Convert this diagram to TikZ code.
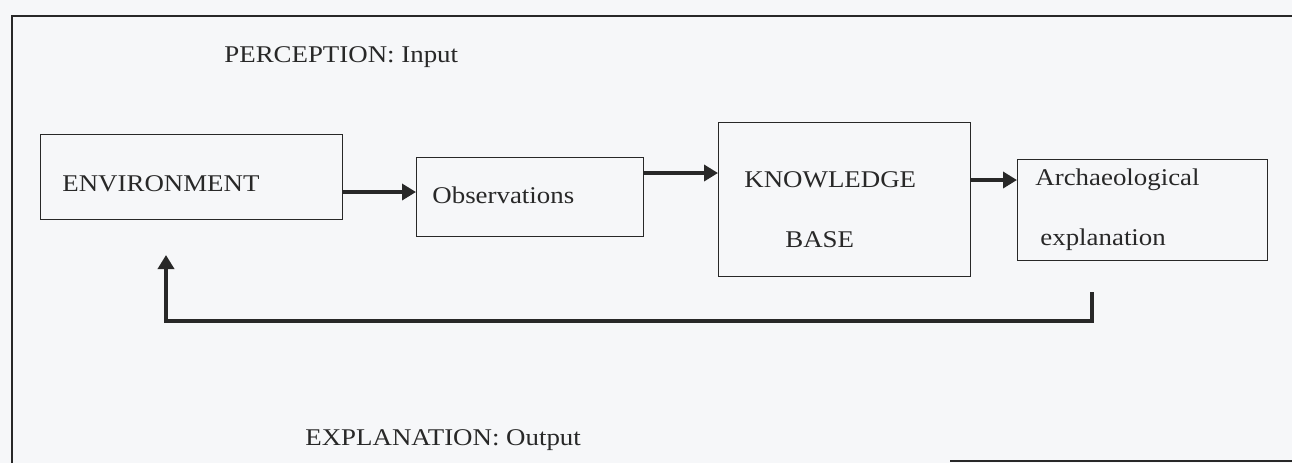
\documentclass[tikz,border=0pt]{standalone}
\usepackage{fontspec}
\setmainfont{Liberation Serif}[FakeStretch=1.12]
\usetikzlibrary{arrows.meta}
\definecolor{bgc}{RGB}{246,247,249}
\definecolor{ink}{RGB}{40,40,40}
\tikzset{
  boxshape/.style={draw=ink, line width=0.6pt, fill=none, rectangle, inner sep=0pt},
  txt/.style={anchor=west, inner sep=0pt, text=ink, font=\fontsize{12}{14}\selectfont},
  arr/.style={draw=ink, line width=2pt, -{Triangle[length=7pt,width=8pt]}},
  frameline/.style={draw=ink, line width=0.8pt}
}
\begin{document}
\begin{tikzpicture}[x=0.5pt,y=-0.5pt]
\useasboundingbox (0,0) rectangle (1292,463);
\fill[bgc] (0,0) rectangle (1292,463);
% frame
\draw[frameline] (12,463) -- (12,16) -- (1292,16);
\draw[frameline] (950,461) -- (1292,461);
% boxes
\node[boxshape, minimum width=151pt, minimum height=42.5pt, anchor=north west] (env) at (40,134) {};
\node[boxshape, minimum width=113.5pt, minimum height=39.5pt, anchor=north west] (obs) at (416,157) {};
\node[boxshape, minimum width=126pt, minimum height=77pt, anchor=north west] (kb) at (718,122) {};
\node[boxshape, minimum width=125pt, minimum height=50.5pt, anchor=north west] (ae) at (1017,159) {};
% texts
\node[txt] (perc) at (224,57) {PERCEPTION: Input};
\node[txt] (envt) at (62,184) {ENVIRONMENT};
\node[txt] (obst) at (432,195) {Observations};
\node[txt] (kbt1) at (744,180) {KNOWLEDGE};
\node[txt] (kbt2) at (785,240) {BASE};
\node[txt] (aet1) at (1035,180) {Archaeological};
\node[txt] (aet2) at (1040,240) {explanation};
\node[txt] (expl) at (305,440) {EXPLANATION: Output};
% arrow levels
\coordinate (l1) at (0,192);
\coordinate (l2) at (0,173);
\coordinate (l3) at (0,180);
\draw[arr] (env.east |- l1) -- (obs.west |- l1);
\draw[arr] (obs.east |- l2) -- (kb.west |- l2);
\draw[arr] (kb.east |- l3) -- (ae.west |- l3);
% feedback
\coordinate (fbs) at (1092,292);
\coordinate (fbe) at (166,255);
\draw[arr] (fbs) -- (1092,321) -| (fbe);
\end{tikzpicture}
\end{document}
